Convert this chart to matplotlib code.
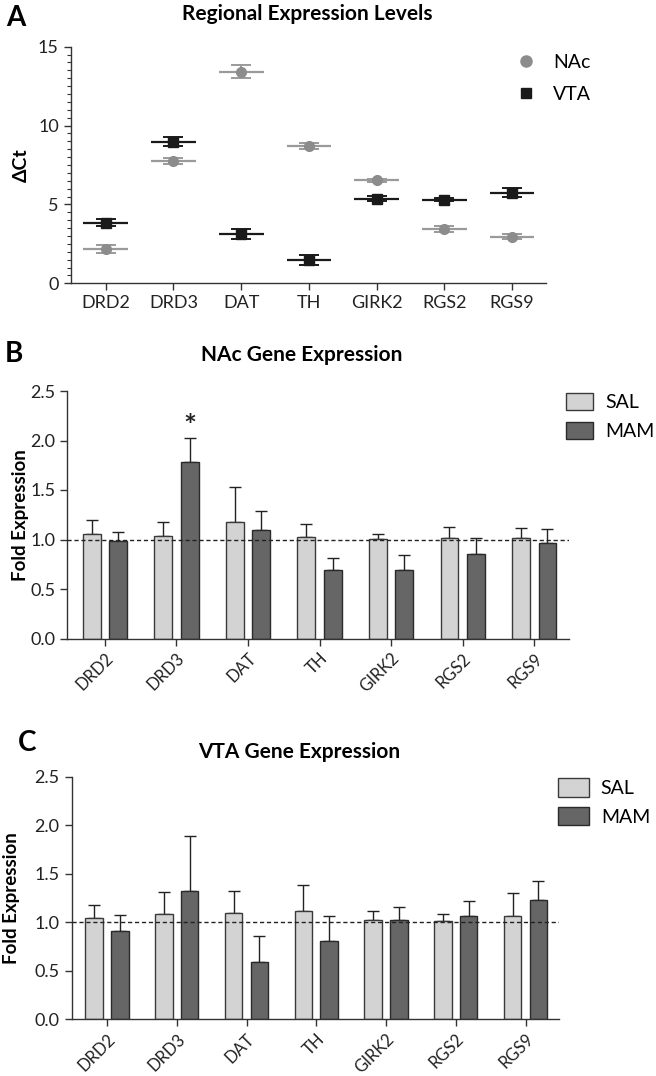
import numpy as np
import matplotlib
matplotlib.use("Agg")
import matplotlib.pyplot as plt
from matplotlib.patches import Patch
from matplotlib.lines import Line2D

plt.rcParams['font.family'] = ['Lato', 'DejaVu Sans']

genes = ["DRD2", "DRD3", "DAT", "TH", "GIRK2", "RGS2", "RGS9"]

# panel A: delta Ct (mean, sem)
nac_dct = [2.15, 7.77, 13.42, 8.70, 6.53, 3.46, 2.96]
nac_dct_sem = [0.25, 0.20, 0.40, 0.20, 0.10, 0.18, 0.15]
vta_dct = [3.85, 8.98, 3.13, 1.46, 5.37, 5.30, 5.75]
vta_dct_sem = [0.20, 0.30, 0.33, 0.33, 0.15, 0.10, 0.30]

# panel B: NAc fold expression
nac_sal = [1.055, 1.04, 1.176, 1.03, 1.004, 1.02, 1.02]
nac_sal_sem = [0.145, 0.14, 0.354, 0.13, 0.051, 0.11, 0.10]
nac_mam = [0.984, 1.78, 1.098, 0.694, 0.694, 0.849, 0.967]
nac_mam_sem = [0.096, 0.245, 0.192, 0.116, 0.152, 0.171, 0.143]

# panel C: VTA fold expression
vta_sal = [1.04, 1.08, 1.10, 1.116, 1.023, 1.013, 1.06]
vta_sal_sem = [0.14, 0.23, 0.22, 0.264, 0.097, 0.072, 0.24]
vta_mam = [0.91, 1.32, 0.587, 0.81, 1.023, 1.065, 1.23]
vta_mam_sem = [0.165, 0.565, 0.273, 0.25, 0.134, 0.155, 0.20]

W, H = 656, 1076
fig = plt.figure(figsize=(W / 100, H / 100), dpi=100)


def box(l, r, t, b):
    return [l / W, 1 - b / H, (r - l) / W, (b - t) / H]


def ftext(x, y, s, **kw):
    fig.text(x / W, 1 - y / H, s, **kw)


def style_axes(ax):
    for s in ("top", "right"):
        ax.spines[s].set_visible(False)
    for s in ("left", "bottom"):
        ax.spines[s].set_color("#333333")
        ax.spines[s].set_linewidth(1.0)
    ax.tick_params(axis="both", colors="#333333", labelcolor="#222222",
                   direction="out", length=5, width=1.0, labelsize=13)


x = np.arange(len(genes))

# ---------- A ----------
axA = fig.add_axes(box(70.6, 545.8, 46.7, 283.3))
style_axes(axA)
nac_col, vta_col = "#8c8c8c", "#1a1a1a"
for means, sems, col in [(nac_dct, nac_dct_sem, "#9a9a9a"),
                         (vta_dct, vta_dct_sem, vta_col)]:
    axA.hlines(means, x - 0.33, x + 0.33, color=col, lw=1.6, zorder=2)
    axA.errorbar(x, means, yerr=sems, fmt="none", ecolor=col, elinewidth=1.4,
                 capsize=7.5, capthick=1.4, zorder=2)
axA.plot(x, nac_dct, "o", color=nac_col, ms=7, zorder=3, lw=0)
axA.plot(x, vta_dct, "s", color=vta_col, ms=7, zorder=3, lw=0)
axA.set_xlim(-0.52, 6.5)
axA.set_ylim(0, 15)
axA.set_yticks([0, 5, 10, 15])
axA.set_yticks(np.arange(0, 15.01, 0.5), minor=True)
axA.tick_params(axis="y", which="minor", length=3, width=0.8, colors="#333333")
axA.set_xticks(x)
axA.set_xticklabels(genes)
axA.set_ylabel("ΔCt", fontsize=14, fontweight="bold")
axA.yaxis.set_label_coords(-0.085, 0.5)
legA = [Line2D([], [], marker="o", color=nac_col, lw=0, ms=8, label="NAc"),
        Line2D([], [], marker="s", color=vta_col, lw=0, ms=7, label="VTA")]
axA.legend(handles=legA, loc="upper left", bbox_to_anchor=(514 / W, 1 - 54 / H),
           bbox_transform=fig.transFigure, frameon=False, fontsize=14,
           borderpad=0, borderaxespad=0,
           handletextpad=0.8, labelspacing=0.75, handlelength=1.2)
ftext(16, 18, "A", fontsize=20, fontweight="bold", ha="center", va="center")
ftext(307, 14, "Regional Expression Levels", fontsize=15, fontweight="bold",
      ha="center", va="center")


# ---------- B & C ----------
def bar_panel(pos, sal, sal_sem, mam, mam_sem, xlim):
    ax = fig.add_axes(pos)
    style_axes(ax)
    w, off = 0.25, 0.185
    ax.bar(x - off, sal, w, color="#d3d3d3", edgecolor="#3a3a3a", lw=1.0, zorder=2)
    ax.bar(x + off, mam, w, color="#666666", edgecolor="#2a2a2a", lw=1.0, zorder=2)
    ax.errorbar(x - off, sal, yerr=[np.zeros(len(sal)), sal_sem], fmt="none",
                ecolor="#222222", elinewidth=1.0, capsize=4.5, capthick=1.0, zorder=1)
    ax.errorbar(x + off, mam, yerr=[np.zeros(len(mam)), mam_sem], fmt="none",
                ecolor="#222222", elinewidth=1.0, capsize=4.5, capthick=1.0, zorder=1)
    ax.axhline(1.0, color="#222222", lw=1.0, ls=(0, (3, 2)), zorder=3)
    ax.set_xlim(*xlim)
    ax.set_ylim(0, 2.5)
    ax.set_yticks([0, 0.5, 1.0, 1.5, 2.0, 2.5])
    ax.set_yticklabels(["0.0", "0.5", "1.0", "1.5", "2.0", "2.5"])
    ax.set_xticks(x)
    ax.set_xticklabels(genes, rotation=45, ha="right", rotation_mode="anchor",
                       fontsize=12)
    ax.set_ylabel("Fold Expression", fontsize=13.5, fontweight="bold")
    return ax


axB = bar_panel(box(67, 568.6, 391, 638.5), nac_sal, nac_sal_sem, nac_mam,
                nac_mam_sem, (-0.53, 6.48))
axB.yaxis.set_label_coords(-0.076, 0.5)
axB.text(1 + 0.185, nac_mam[1] + nac_mam_sem[1] + 0.11, "*", ha="center",
         va="center", fontsize=22, fontweight="bold", color="#222222")
ftext(14, 354, "B", fontsize=20, fontweight="bold", ha="center", va="center")
ftext(302, 355, "NAc Gene Expression", fontsize=15, fontweight="bold",
      ha="center", va="center")

axC = bar_panel(box(71.5, 559, 776.7, 1019.3), vta_sal, vta_sal_sem, vta_mam,
                vta_mam_sem, (-0.51, 6.48))
axC.yaxis.set_label_coords(-0.105, 0.5)
ftext(27, 743, "C", fontsize=20, fontweight="bold", ha="center", va="center")
ftext(299, 752, "VTA Gene Expression", fontsize=15, fontweight="bold",
      ha="center", va="center")

legBC = [Patch(facecolor="#d3d3d3", edgecolor="#3a3a3a", label="SAL"),
         Patch(facecolor="#666666", edgecolor="#2a2a2a", label="MAM")]
axB.legend(handles=legBC, loc="upper left", bbox_to_anchor=(566 / W, 1 - 393 / H),
           bbox_transform=fig.transFigure, frameon=False, fontsize=14,
           borderpad=0, borderaxespad=0,
           handlelength=1.4, handleheight=1.0, handletextpad=0.6, labelspacing=0.55)
axC.legend(handles=legBC, loc="upper left", bbox_to_anchor=(558 / W, 1 - 778 / H),
           bbox_transform=fig.transFigure, frameon=False, fontsize=14,
           borderpad=0, borderaxespad=0,
           handlelength=1.6, handleheight=1.1, handletextpad=0.6, labelspacing=0.5)

fig.savefig("out.png", dpi=100)
